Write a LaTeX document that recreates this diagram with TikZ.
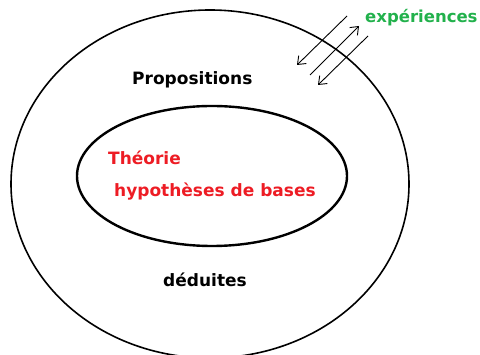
\documentclass[tikz,border=0pt]{standalone}
\usepackage{fontspec}
\setmainfont{DejaVu Sans}
\usetikzlibrary{arrows.meta}
\definecolor{expgreen}{RGB}{34,177,76}
\definecolor{theored}{RGB}{237,28,36}
\begin{document}
\begin{tikzpicture}[x=1pt,y=-1pt,every node/.style={font=\bfseries\fontsize{17}{20}\selectfont,inner sep=0pt,anchor=base west},
  flux/.style={line width=0.9pt,-{Straight Barb[length=7pt,width=11pt]}}]
\useasboundingbox (0,0) rectangle (480,355);
% les deux domaines
\draw[line width=1.6pt] (210,184) ellipse [x radius=199,y radius=174];
\draw[line width=2.4pt] (212,176) ellipse [x radius=135,y radius=70];
% textes
\node (prop) at (132,85) {Propositions};
\node[theored] (theo) at (108,165) {Théorie};
\node[theored] (hyp) at (114,197) {hypothèses de bases};
\node (ded) at (163,287) {déduites};
\node[expgreen,font=\bfseries\fontsize{16.5}{20}\selectfont] (exp) at (365,23) {expériences};
% echanges avec l'experience
\coordinate (a1) at (347,16); \coordinate (b1) at (297,65);
\coordinate (a2) at (310,75); \coordinate (b2) at (359,26);
\coordinate (a3) at (368,36); \coordinate (b3) at (318,85);
\draw[flux] (a1) -- (b1);
\draw[flux] (a2) -- (b2);
\draw[flux] (a3) -- (b3);
\end{tikzpicture}
\end{document}
